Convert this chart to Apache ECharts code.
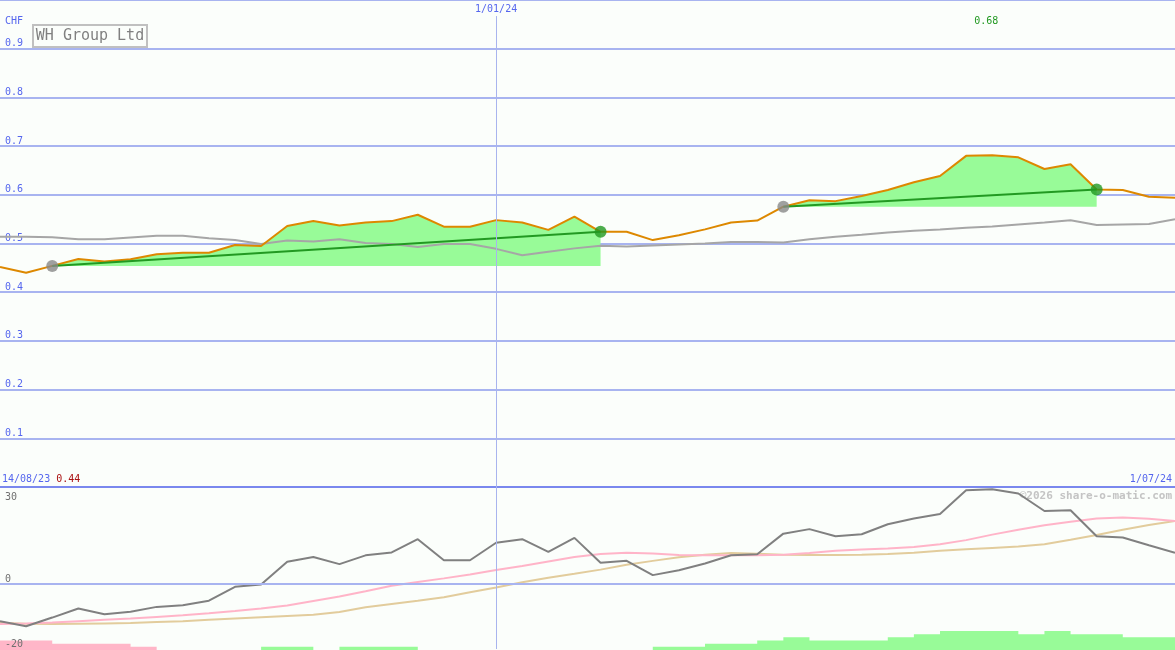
<!DOCTYPE html>
<html>
<head>
<meta charset="utf-8">
<script src="https://cdn.jsdelivr.net/npm/echarts@6/dist/echarts.min.js"></script>
<style>
html,body{margin:0;padding:0;background:#fbfefb;}
#chart{width:1175px;height:650px;}
</style>
</head>
<body>
<div id="chart"></div>
<script>
// ---- data ----
const dates = ['21/08/23','28/08/23','4/09/23','11/09/23','18/09/23','25/09/23','2/10/23','9/10/23','16/10/23','23/10/23','30/10/23',
  '6/11/23','13/11/23','20/11/23','27/11/23','4/12/23','11/12/23','18/12/23','25/12/23','1/01/24','8/01/24','15/01/24','22/01/24','29/01/24',
  '5/02/24','12/02/24','19/02/24','26/02/24','4/03/24','11/03/24','18/03/24','25/03/24','1/04/24','8/04/24','15/04/24','22/04/24','29/04/24',
  '6/05/24','13/05/24','20/05/24','27/05/24','3/06/24','10/06/24','17/06/24','24/06/24','1/07/24'];
const price = [0.452,0.440,0.454,0.468,0.463,0.4675,0.478,0.481,0.481,0.497,0.495,0.536,0.546,0.537,0.543,0.546,0.559,0.5345,0.5345,0.548,
  0.543,0.528,0.555,0.524,0.524,0.507,0.517,0.529,0.543,0.547,0.5756,0.589,0.587,0.5975,0.610,0.6256,0.6386,0.680,0.681,0.677,0.653,0.6626,
  0.611,0.610,0.596,0.594];
const priceAvg = [0.514,0.514,0.513,0.5086,0.5086,0.5123,0.516,0.516,0.511,0.507,0.499,0.506,0.504,0.5086,0.501,0.499,0.493,0.499,0.499,0.489,
  0.476,0.483,0.490,0.4955,0.494,0.496,0.498,0.500,0.503,0.503,0.502,0.5086,0.514,0.518,0.5226,0.526,0.529,0.5324,0.535,0.539,0.543,0.5476,
  0.538,0.539,0.540,0.550];
const momentum = [-11.4,-13.0,-10.3,-7.5,-9.3,-8.5,-7.0,-6.5,-5.1,-0.8,-0.1,6.9,8.4,6.2,8.9,9.8,13.9,7.4,7.4,12.8,13.9,10.0,14.3,6.6,7.2,2.8,
  4.3,6.4,8.95,9.26,15.6,17.0,14.8,15.4,18.5,20.3,21.7,29.0,29.3,28.0,22.6,22.8,14.8,14.4,12.0,9.7];
const momFast = [-12.3,-12.1,-11.8,-11.4,-11.0,-10.6,-10.1,-9.6,-9.0,-8.3,-7.5,-6.6,-5.2,-3.8,-2.2,-0.5,0.7,1.8,3.0,4.4,5.6,7.0,8.4,9.3,9.7,
  9.5,9.0,8.9,8.9,8.9,9.1,9.6,10.3,10.7,11.0,11.5,12.3,13.6,15.3,16.8,18.2,19.3,20.3,20.6,20.2,19.5];
const momSlow = [-11.9,-12.2,-12.3,-12.2,-12.1,-12.0,-11.7,-11.4,-11.0,-10.6,-10.2,-9.8,-9.4,-8.6,-7.1,-6.1,-5.1,-4.0,-2.5,-1.0,0.6,2.0,3.2,
  4.5,6.0,7.2,8.3,9.1,9.6,9.4,9.1,9.0,9.0,9.1,9.3,9.7,10.3,10.8,11.2,11.6,12.3,13.7,15.2,16.8,18.3,19.5];
const barsDown = [3,3,2,2,2,1,0,0,0,0,0,0,0,0,0,0,0,0,0,0,0,0,0,0,0,0,0,0,0,0,0,0,0,0,0,0,0,0,0,0,0,0,0,0,0,0];
const barsUp = [0,0,0,0,0,0,0,0,0,0,1,1,0,1,1,1,0,0,0,0,0,0,0,0,0,1,1,2,2,3,4,3,3,3,4,5,6,6,6,5,6,5,5,4,4,4];
const gainSegments = [[2,23],[30,42]];
const markDate = '1/01/24';
const startLabel = '14/08/23';
const endLabel = '1/07/24';
const topTicks = [0.1,0.2,0.3,0.4,0.5,0.6,0.7,0.8,0.9];
const bottomTicks = [-20,0];
const bottomTopTick = 30;

// ---- chart ----
const MONO = 'DejaVu Sans Mono';
const BLUE = '#5566ee';
const GRID = '#a8b4f0';
const chart = echarts.init(document.getElementById('chart'));
const markIdx = dates.indexOf(markDate);
const maxVal = Math.max.apply(null, price);
const maxIdx = price.indexOf(maxVal);
const minVal = Math.min.apply(null, price);

const series = [];
gainSegments.forEach(function (seg) {
  const s = seg[0], e = seg[1];
  series.push({
    type: 'line', xAxisIndex: 0, yAxisIndex: 0, silent: true, symbol: 'none', z: 1,
    data: price.map(function (v, i) { return (i >= s && i <= e) ? v : null; }),
    lineStyle: { opacity: 0 },
    areaStyle: { color: '#98fb98', opacity: 1, origin: price[s] }
  });
});
series.push({
  type: 'line', xAxisIndex: 0, yAxisIndex: 0, data: priceAvg, symbol: 'none', z: 2, silent: true,
  lineStyle: { color: '#a6a6a6', width: 2 },
  markLine: {
    silent: true, symbol: ['none', 'none'], animation: false,
    lineStyle: { type: 'solid', color: '#a8b4ee', width: 1 },
    label: { show: true, position: 'end', formatter: markDate, color: BLUE, fontFamily: MONO, fontSize: 10, distance: 2 },
    data: [[{ coord: [markIdx, 0] }, { coord: [markIdx, 0.967] }]]
  }
});
series.push({
  type: 'line', xAxisIndex: 0, yAxisIndex: 0, data: price, symbol: 'none', z: 3, silent: true,
  lineStyle: { color: '#dd8800', width: 2 },
  markPoint: {
    silent: true, symbol: 'circle', symbolSize: 0, animation: false,
    itemStyle: { color: 'transparent' },
    label: { show: true, position: 'inside', formatter: maxVal.toFixed(2), color: '#229922', fontFamily: MONO, fontSize: 10, offset: [-6, 0] },
    data: [{ coord: [maxIdx, 0.957], value: maxVal }]
  }
});
gainSegments.forEach(function (seg) {
  const s = seg[0], e = seg[1];
  series.push({
    type: 'line', xAxisIndex: 0, yAxisIndex: 0, symbol: 'none', z: 4, silent: true, connectNulls: true,
    data: price.map(function (v, i) { return (i === s || i === e) ? v : null; }),
    lineStyle: { color: '#229922', width: 2 }
  });
  series.push({
    type: 'scatter', xAxisIndex: 0, yAxisIndex: 0, symbolSize: 12, z: 5, silent: true,
    data: [
      { value: [s, price[s]], itemStyle: { color: '#888888' } },
      { value: [e, price[e]], itemStyle: { color: price[e] >= price[s] ? '#229922' : '#cc2222' } }
    ]
  });
});
series.push({
  type: 'line', xAxisIndex: 2, yAxisIndex: 3, data: barsDown, step: 'end', symbol: 'none', silent: true, z: 1,
  lineStyle: { opacity: 0 }, areaStyle: { color: '#ffb6c8', opacity: 1 }
});
series.push({
  type: 'line', xAxisIndex: 2, yAxisIndex: 3, data: barsUp, step: 'end', symbol: 'none', silent: true, z: 1,
  lineStyle: { opacity: 0 }, areaStyle: { color: '#98fb98', opacity: 1 }
});
series.push({
  type: 'line', xAxisIndex: 1, yAxisIndex: 1, data: momSlow, symbol: 'none', silent: true, z: 2,
  lineStyle: { color: '#e2cc9c', width: 2 }
});
series.push({
  type: 'line', xAxisIndex: 1, yAxisIndex: 1, data: momFast, symbol: 'none', silent: true, z: 3,
  lineStyle: { color: '#ffb4c8', width: 2 }
});
series.push({
  type: 'line', xAxisIndex: 1, yAxisIndex: 1, data: momentum, symbol: 'none', silent: true, z: 4,
  lineStyle: { color: '#808080', width: 2 },
  markLine: {
    silent: true, symbol: ['none', 'none'], animation: false,
    lineStyle: { type: 'solid', color: '#a8b4ee', width: 1 },
    label: { show: false },
    data: [[{ coord: [markIdx, -20] }, { coord: [markIdx, 30] }]]
  }
});

function xAx(i) {
  return {
    type: 'category', gridIndex: i, data: dates, boundaryGap: false,
    axisLabel: { show: false }, axisTick: { show: false }, splitLine: { show: false },
    axisLine: { show: i === 0, lineStyle: { color: '#7a88ee', width: 2 } }
  };
}

const topColors = [];
for (let i = 0; i <= 10; i++) topColors.push(i === 0 ? 'rgba(0,0,0,0)' : GRID);
const botColors = [-20, -10, 0, 10, 20, 30].map(function (v) { return v === 0 ? GRID : 'rgba(0,0,0,0)'; });

chart.setOption({
  backgroundColor: '#fbfefb',
  animation: false,
  grid: [
    { left: 0, right: 0, top: 0, height: 487 },
    { left: 0, right: 0, top: 487, height: 162 },
    { left: 0, right: 0, top: 620, height: 30 }
  ],
  xAxis: [xAx(0), xAx(1), xAx(2)],
  yAxis: [
    {
      type: 'value', gridIndex: 0, min: 0, max: 1, interval: 0.1,
      axisLine: { show: false }, axisTick: { show: false },
      axisLabel: {
        inside: true, margin: 5, verticalAlign: 'bottom', color: BLUE, fontFamily: MONO, fontSize: 10,
        formatter: function (v) {
          const r = Math.round(v * 10) / 10;
          return topTicks.indexOf(r) >= 0 ? r.toFixed(1) : '';
        }
      },
      splitLine: { show: true, lineStyle: { color: topColors, width: 2 } }
    },
    {
      type: 'value', gridIndex: 1, min: -20, max: 30, interval: 10, z: 10,
      axisLine: { show: false }, axisTick: { show: false },
      axisLabel: {
        inside: true, margin: 5, verticalAlign: 'bottom', color: '#707070', fontFamily: MONO, fontSize: 10,
        showMinLabel: true,
        formatter: function (v) { return bottomTicks.indexOf(v) >= 0 ? String(v) : ''; }
      },
      splitLine: { show: true, lineStyle: { color: botColors, width: 2 } }
    },
    {
      type: 'value', gridIndex: 1, min: -20, max: 30, interval: 10, position: 'left', z: 10,
      axisLine: { show: false }, axisTick: { show: false }, splitLine: { show: false },
      axisLabel: {
        inside: true, margin: 5, verticalAlign: 'top', color: '#707070', fontFamily: MONO, fontSize: 10,
        showMaxLabel: true, padding: [5, 0, 0, 0],
        formatter: function (v) { return v === bottomTopTick ? String(v) : ''; }
      }
    },
    { type: 'value', gridIndex: 2, min: 0, max: 9.46, show: false }
  ],
  graphic: [
    { type: 'text', z: 0, style: { text: '\u00a92026 share-o-matic.com', x: 1172, y: 496, align: 'right', verticalAlign: 'middle', fill: '#c4c4c4', font: 'bold 11px "DejaVu Sans Mono"' } },
    { type: 'text', z: 10, style: { text: 'CHF', x: 5, y: 21, align: 'left', verticalAlign: 'middle', fill: BLUE, font: '10px "DejaVu Sans Mono"' } },
    { type: 'rect', z: 10, shape: { x: 33, y: 25, width: 114, height: 22 }, style: { fill: '#fbfefb', stroke: '#c0c0c0', lineWidth: 2 } },
    { type: 'text', z: 11, style: { text: 'WH Group Ltd', x: 90, y: 36.5, align: 'center', verticalAlign: 'middle', fill: '#808080', font: '15px "DejaVu Sans Mono"' } },
    { type: 'text', z: 10, style: {
        text: '{d|' + startLabel + '} {r|' + minVal.toFixed(2) + '}', x: 2, y: 479, align: 'left', verticalAlign: 'middle',
        font: '10px "DejaVu Sans Mono"',
        rich: { d: { fill: BLUE, fontFamily: MONO, fontSize: 10 }, r: { fill: '#aa1111', fontFamily: MONO, fontSize: 10 } }
    } },
    { type: 'text', z: 10, style: { text: endLabel, x: 1172, y: 479, align: 'right', verticalAlign: 'middle', fill: BLUE, font: '10px "DejaVu Sans Mono"' } }
  ],
  series: series
});
</script>
</body>
</html>
